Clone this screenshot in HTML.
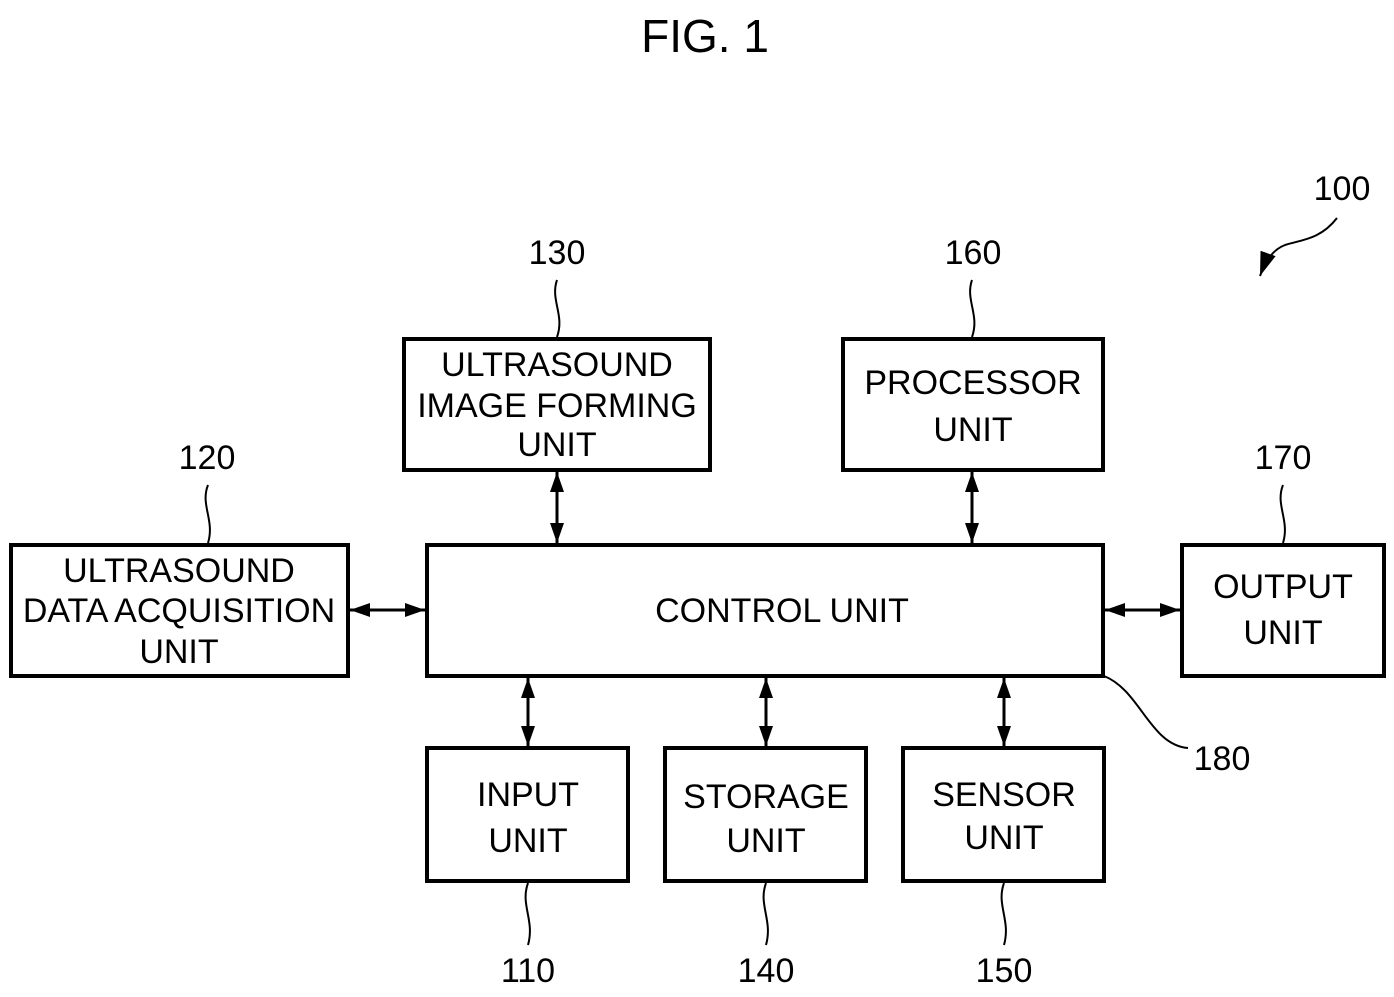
<!DOCTYPE html>
<html><head><style>body{margin:0;background:#fff}</style></head><body>
<svg width="1394" height="992" viewBox="0 0 1394 992" xmlns="http://www.w3.org/2000/svg" font-family="Liberation Sans, sans-serif" font-size="34">
<defs>
<marker id="b" markerWidth="20" markerHeight="14" refX="20" refY="7" orient="auto-start-reverse" markerUnits="userSpaceOnUse" viewBox="0 0 20 14"><path d="M0,0L20,7L0,14z"/></marker>
<marker id="c" markerWidth="24" markerHeight="16" refX="24" refY="8" orient="auto" markerUnits="userSpaceOnUse" viewBox="0 0 24 16"><path d="M0,0L24,8L0,16z"/></marker>
</defs>
<text x="705" y="52" font-size="46" text-anchor="middle">FIG. 1</text>
<g fill="none" stroke="#000" stroke-width="4">
<rect x="404" y="339" width="306" height="131"/>
<rect x="843" y="339" width="260" height="131"/>
<rect x="11" y="545" width="337" height="131"/>
<rect x="427" y="545" width="676" height="131"/>
<rect x="1182" y="545" width="202" height="131"/>
<rect x="427" y="748" width="201" height="133"/>
<rect x="665" y="748" width="201" height="133"/>
<rect x="903" y="748" width="201" height="133"/>
</g>
<g stroke="#000" stroke-width="3" marker-start="url(#b)" marker-end="url(#b)">
<line x1="557" y1="472" x2="557" y2="543"/>
<line x1="972" y1="472" x2="972" y2="543"/>
<line x1="350" y1="610" x2="425" y2="610"/>
<line x1="1105" y1="610" x2="1180" y2="610"/>
<line x1="528" y1="678" x2="528" y2="746"/>
<line x1="766" y1="678" x2="766" y2="746"/>
<line x1="1004" y1="678" x2="1004" y2="746"/>
</g>
<g fill="none" stroke="#000" stroke-width="2">
<path d="M557,280 C550,300 565,315 557,337"/>
<path d="M972,280 C965,300 980,315 972,337"/>
<path d="M208,485 C200,505 215,520 208,543"/>
<path d="M1283,485 C1275,505 1290,520 1283,543"/>
<path d="M528,883 C520,905 535,920 528,945"/>
<path d="M766,883 C758,905 773,920 766,945"/>
<path d="M1004,883 C996,905 1011,920 1004,945"/>
<path d="M1104,676 C1140,690 1150,745 1188,748"/>
<path d="M1337,218 C1320,240 1300,240 1285,245 C1272,250 1265,262 1260,276" marker-end="url(#c)"/>
</g>
<g text-anchor="middle">
<text x="557" y="264">130</text>
<text x="973" y="264">160</text>
<text x="207" y="469">120</text>
<text x="1283" y="469">170</text>
<text x="1342" y="200">100</text>
<text x="1222" y="770">180</text>
<text x="528" y="982">110</text>
<text x="766" y="982">140</text>
<text x="1004" y="982">150</text>
<text x="557" y="376">ULTRASOUND</text>
<text x="557" y="417">IMAGE FORMING</text>
<text x="557" y="456">UNIT</text>
<text x="973" y="394">PROCESSOR</text>
<text x="973" y="441">UNIT</text>
<text x="179" y="582">ULTRASOUND</text>
<text x="179" y="622">DATA ACQUISITION</text>
<text x="179" y="663">UNIT</text>
<text x="782" y="622">CONTROL UNIT</text>
<text x="1283" y="598">OUTPUT</text>
<text x="1283" y="644">UNIT</text>
<text x="528" y="806">INPUT</text>
<text x="528" y="852">UNIT</text>
<text x="766" y="808">STORAGE</text>
<text x="766" y="852">UNIT</text>
<text x="1004" y="806">SENSOR</text>
<text x="1004" y="849">UNIT</text>
</g>
</svg>
</body></html>
